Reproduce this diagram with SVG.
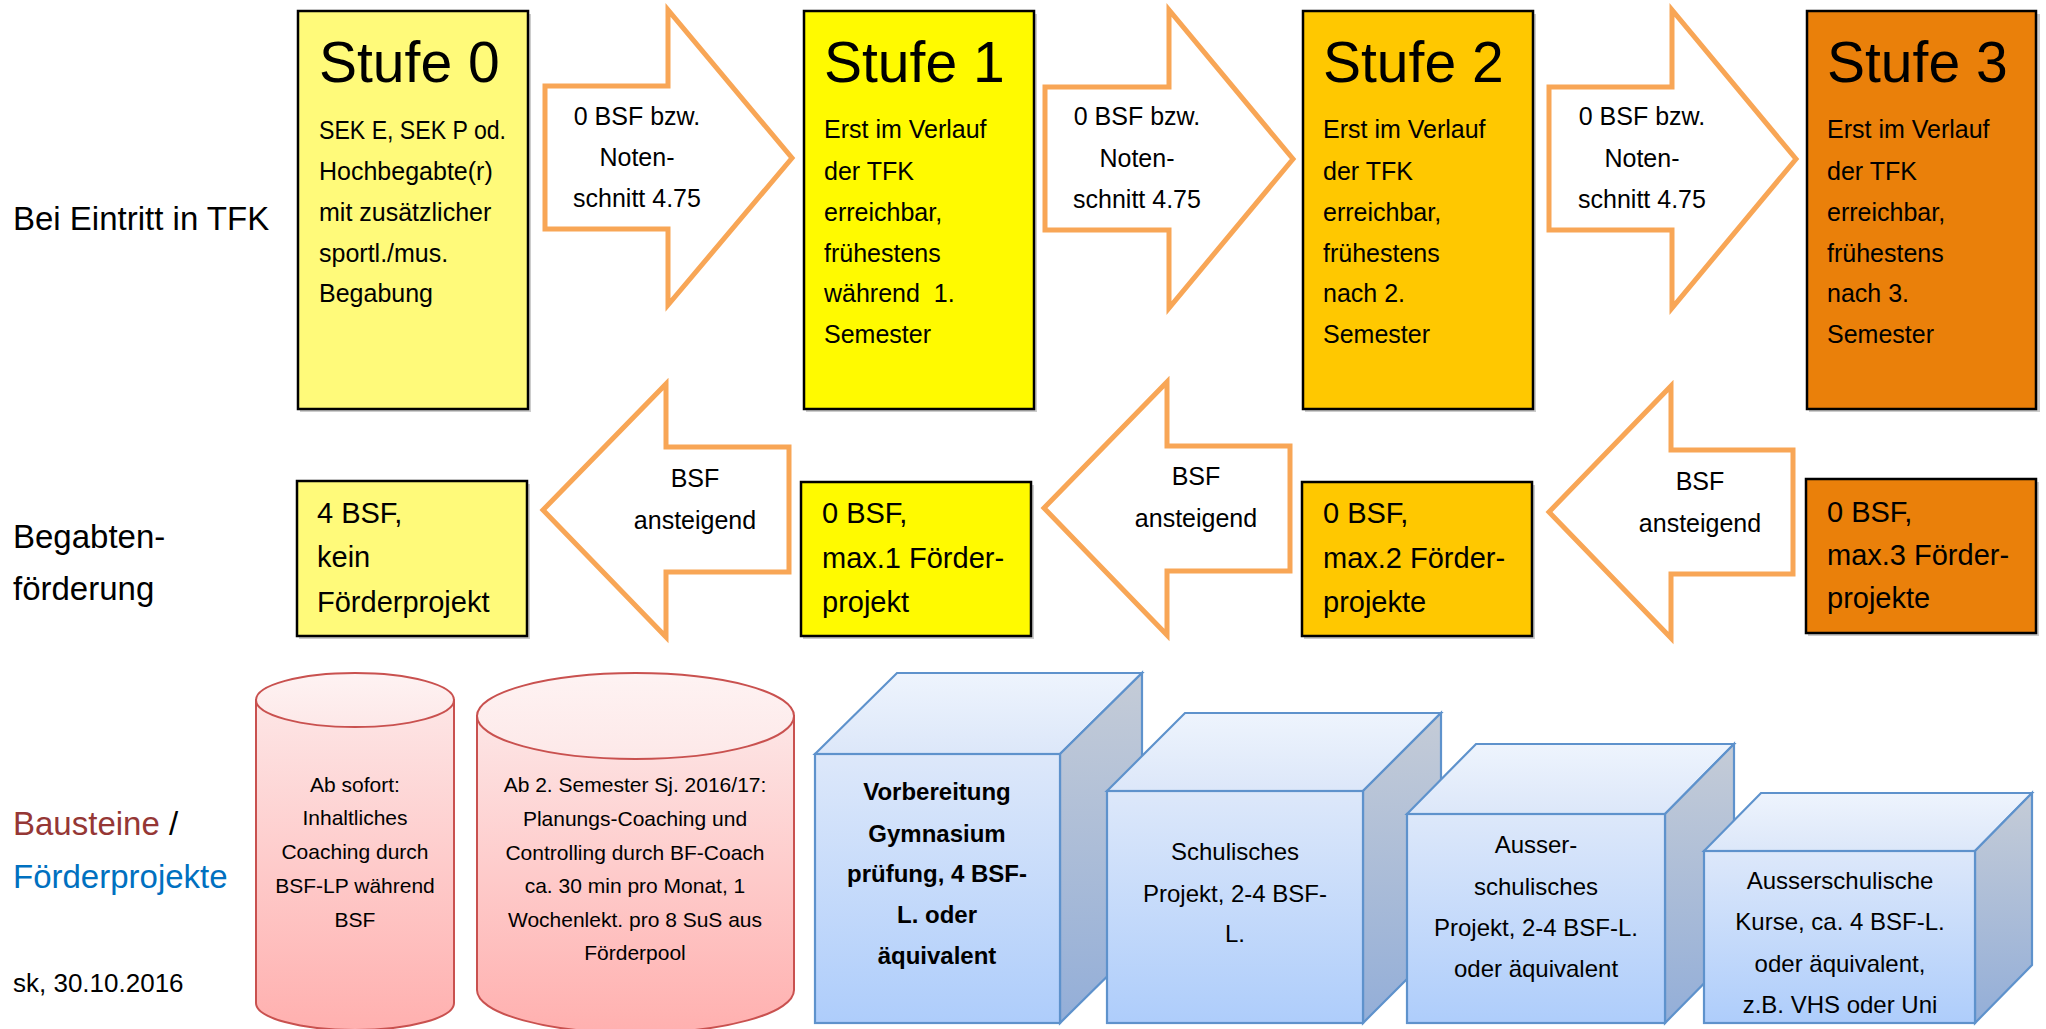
<svg xmlns="http://www.w3.org/2000/svg" width="2046" height="1029" viewBox="0 0 2046 1029">
<defs>
<linearGradient id="gCyl" x1="0" y1="0" x2="0" y2="1"><stop offset="0" stop-color="#FDE6E6"/><stop offset="1" stop-color="#FFB0AF"/></linearGradient>
<linearGradient id="gCylTop" x1="0" y1="0" x2="0" y2="1"><stop offset="0" stop-color="#FEF3F3"/><stop offset="1" stop-color="#FDE8E8"/></linearGradient>
<linearGradient id="gFront" x1="0" y1="0" x2="0" y2="1"><stop offset="0" stop-color="#DDE8FA"/><stop offset="1" stop-color="#AECDFB"/></linearGradient>
<linearGradient id="gTop" x1="0" y1="0" x2="0" y2="1"><stop offset="0" stop-color="#EEF4FD"/><stop offset="1" stop-color="#DCE7F9"/></linearGradient>
<linearGradient id="gSide" x1="0" y1="0" x2="0" y2="1"><stop offset="0" stop-color="#C5CCD7"/><stop offset="1" stop-color="#93AED8"/></linearGradient>
</defs>
<style>
text{font-family:"Liberation Sans",Arial,sans-serif;fill:#000}
.lbl{font-size:33px}
.title{font-size:57px}
.body{font-size:25px}
.arw{font-size:25px;text-anchor:middle}
.bb{font-size:29px}
.cyl{font-size:21px;text-anchor:middle}
.cube{font-size:24px;text-anchor:middle}
.bold{font-weight:bold}
.box{stroke:#000;stroke-width:2.5}
.shadow{fill:#9a9a9a;opacity:0.5}
.arrow{fill:#fff;stroke:#F8A656;stroke-width:5;stroke-linejoin:miter}
.cylb{fill:url(#gCyl);stroke:#C9514F;stroke-width:2}
.cylt{fill:url(#gCylTop);stroke:#C9514F;stroke-width:2}
.front{fill:url(#gFront);stroke:#5E92CC;stroke-width:2.2}
.top{fill:url(#gTop);stroke:#5E92CC;stroke-width:2.2}
.side{fill:url(#gSide);stroke:#5E92CC;stroke-width:2.2}
</style>
<rect width="2046" height="1029" fill="#fff"/>

<g id="labels">
<text class="lbl" x="13" y="230">Bei Eintritt in TFK</text>
<text class="lbl" x="13" y="548">Begabten-</text>
<text class="lbl" x="13" y="600">förderung</text>
<text class="lbl" x="13" y="835"><tspan fill="#953735" style="fill:#953735">Bausteine</tspan> /</text>
<text class="lbl" x="13" y="888" style="fill:#0070C0">Förderprojekte</text>
<text x="13" y="992" style="font-size:26px">sk, 30.10.2016</text>
</g>

<g id="connectors">
<polygon class="arrow" points="545,86 668,86 668,10 792,158 668,305 668,229 545,229"/>
<polygon class="arrow" points="1045,87 1169,87 1169,10 1293,159 1169,308 1169,230 1045,230"/>
<polygon class="arrow" points="1549,87 1672,87 1672,10 1796,159 1672,308 1672,230 1549,230"/>
<polygon class="arrow" points="789,447 666,447 666,384 543,510 666,637 666,572 789,572"/>
<polygon class="arrow" points="1290,446 1167,446 1167,382 1044,508 1167,635 1167,571 1290,571"/>
<polygon class="arrow" points="1793,450 1671,450 1671,386 1549,512 1671,638 1671,574 1793,574"/>
<g id="arrow-labels">
<text class="arw" x="637" y="125">0 BSF bzw.</text>
<text class="arw" x="637" y="166">Noten-</text>
<text class="arw" x="637" y="207">schnitt 4.75</text>
<text class="arw" x="1137" y="125">0 BSF bzw.</text>
<text class="arw" x="1137" y="167">Noten-</text>
<text class="arw" x="1137" y="208">schnitt 4.75</text>
<text class="arw" x="1642" y="125">0 BSF bzw.</text>
<text class="arw" x="1642" y="167">Noten-</text>
<text class="arw" x="1642" y="208">schnitt 4.75</text>
<text class="arw" x="695" y="487">BSF</text>
<text class="arw" x="695" y="529">ansteigend</text>
<text class="arw" x="1196" y="485">BSF</text>
<text class="arw" x="1196" y="527">ansteigend</text>
<text class="arw" x="1700" y="490">BSF</text>
<text class="arw" x="1700" y="532">ansteigend</text>
</g>
</g>

<g id="stufe0">
<rect class="shadow" x="300" y="14" width="231" height="398"/>
<rect class="box" x="298" y="11" width="230" height="398" fill="#FFFA7A"/>
<text class="title" x="319" y="82">Stufe 0</text>
<text class="body" x="319" y="139" textLength="187" lengthAdjust="spacingAndGlyphs">SEK E, SEK P od.</text>
<text class="body" x="319" y="180">Hochbegabte(r)</text>
<text class="body" x="319" y="221">mit zusätzlicher</text>
<text class="body" x="319" y="262">sportl./mus.</text>
<text class="body" x="319" y="302">Begabung</text>
</g>
<g id="stufe1">
<rect class="shadow" x="806" y="14" width="231" height="398"/>
<rect class="box" x="804" y="11" width="230" height="398" fill="#FFFA00"/>
<text class="title" x="824" y="82">Stufe 1</text>
<text class="body" x="824" y="138">Erst im Verlauf</text>
<text class="body" x="824" y="180">der TFK</text>
<text class="body" x="824" y="221">erreichbar,</text>
<text class="body" x="824" y="262">frühestens</text>
<text class="body" x="824" y="302" xml:space="preserve">während  1.</text>
<text class="body" x="824" y="343">Semester</text>
</g>
<g id="stufe2">
<rect class="shadow" x="1305" y="14" width="231" height="398"/>
<rect class="box" x="1303" y="11" width="230" height="398" fill="#FFC800"/>
<text class="title" x="1323" y="82">Stufe 2</text>
<text class="body" x="1323" y="138">Erst im Verlauf</text>
<text class="body" x="1323" y="180">der TFK</text>
<text class="body" x="1323" y="221">erreichbar,</text>
<text class="body" x="1323" y="262">frühestens</text>
<text class="body" x="1323" y="302">nach 2.</text>
<text class="body" x="1323" y="343">Semester</text>
</g>
<g id="stufe3">
<rect class="shadow" x="1809" y="14" width="231" height="398"/>
<rect class="box" x="1807" y="11" width="229" height="398" fill="#EA800A"/>
<text class="title" x="1827" y="82">Stufe 3</text>
<text class="body" x="1827" y="138">Erst im Verlauf</text>
<text class="body" x="1827" y="180">der TFK</text>
<text class="body" x="1827" y="221">erreichbar,</text>
<text class="body" x="1827" y="262">frühestens</text>
<text class="body" x="1827" y="302">nach 3.</text>
<text class="body" x="1827" y="343">Semester</text>
</g>

<g id="foerderung0">
<rect class="shadow" x="299" y="484" width="231" height="155"/>
<rect class="box" x="297" y="481" width="230" height="155" fill="#FFFA7A"/>
<text class="bb" x="317" y="523">4 BSF,</text>
<text class="bb" x="317" y="567">kein</text>
<text class="bb" x="317" y="612">Förderprojekt</text>
</g>
<g id="foerderung1">
<rect class="shadow" x="803" y="485" width="231" height="154"/>
<rect class="box" x="801" y="482" width="230" height="154" fill="#FFFA00"/>
<text class="bb" x="822" y="523">0 BSF,</text>
<text class="bb" x="822" y="568">max.1 Förder-</text>
<text class="bb" x="822" y="612">projekt</text>
</g>
<g id="foerderung2">
<rect class="shadow" x="1304" y="485" width="231" height="154"/>
<rect class="box" x="1302" y="482" width="230" height="154" fill="#FFC800"/>
<text class="bb" x="1323" y="523">0 BSF,</text>
<text class="bb" x="1323" y="568">max.2 Förder-</text>
<text class="bb" x="1323" y="612">projekte</text>
</g>
<g id="foerderung3">
<rect class="shadow" x="1808" y="482" width="231" height="154"/>
<rect class="box" x="1806" y="479" width="230" height="154" fill="#EA800A"/>
<text class="bb" x="1827" y="522">0 BSF,</text>
<text class="bb" x="1827" y="565">max.3 Förder-</text>
<text class="bb" x="1827" y="608">projekte</text>
</g>

<g id="zylinder1">
<path class="cylb" d="M256,700 L256,1003 A99,27 0 0 0 454,1003 L454,700 Z"/>
<ellipse class="cylt" cx="355" cy="700" rx="99" ry="27"/>
<text class="cyl" x="355" y="792">Ab sofort:</text>
<text class="cyl" x="355" y="825">Inhaltliches</text>
<text class="cyl" x="355" y="859">Coaching durch</text>
<text class="cyl" x="355" y="893">BSF-LP während</text>
<text class="cyl" x="355" y="927">BSF</text>
</g>
<g id="zylinder2">
<path class="cylb" d="M477,716 L477,990 A158.5,43 0 0 0 794,990 L794,716 Z"/>
<ellipse class="cylt" cx="635.5" cy="716" rx="158.5" ry="43"/>
<text class="cyl" x="635" y="792">Ab 2. Semester Sj. 2016/17:</text>
<text class="cyl" x="635" y="826">Planungs-Coaching und</text>
<text class="cyl" x="635" y="860">Controlling durch BF-Coach</text>
<text class="cyl" x="635" y="893">ca. 30 min pro Monat, 1</text>
<text class="cyl" x="635" y="927">Wochenlekt. pro 8 SuS aus</text>
<text class="cyl" x="635" y="960">Förderpool</text>
</g>

<g id="wuerfel1">
<polygon class="top" points="815,754 897,673 1142,673 1060,754"/>
<polygon class="side" points="1060,754 1142,673 1142,942 1060,1023"/>
<rect class="front" x="815" y="754" width="245" height="269"/>
<text class="cube bold" x="937" y="800">Vorbereitung</text>
<text class="cube bold" x="937" y="842">Gymnasium</text>
<text class="cube bold" x="937" y="882">prüfung, 4 BSF-</text>
<text class="cube bold" x="937" y="923">L. oder</text>
<text class="cube bold" x="937" y="964">äquivalent</text>
</g>
<g id="wuerfel2">
<polygon class="top" points="1107,791 1185,713 1441,713 1363,791"/>
<polygon class="side" points="1363,791 1441,713 1441,945 1363,1023"/>
<rect class="front" x="1107" y="791" width="256" height="232"/>
<text class="cube" x="1235" y="860">Schulisches</text>
<text class="cube" x="1235" y="902">Projekt, 2-4 BSF-</text>
<text class="cube" x="1235" y="942">L.</text>
</g>
<g id="wuerfel3">
<polygon class="top" points="1407,814 1476,744 1734,744 1665,814"/>
<polygon class="side" points="1665,814 1734,744 1734,953 1665,1023"/>
<rect class="front" x="1407" y="814" width="258" height="209"/>
<text class="cube" x="1536" y="853">Ausser-</text>
<text class="cube" x="1536" y="895">schulisches</text>
<text class="cube" x="1536" y="936">Projekt, 2-4 BSF-L.</text>
<text class="cube" x="1536" y="977">oder äquivalent</text>
</g>
<g id="wuerfel4">
<polygon class="top" points="1704,851 1761,793 2032,793 1975,851"/>
<polygon class="side" points="1975,851 2032,793 2032,965 1975,1023"/>
<rect class="front" x="1704" y="851" width="271" height="172"/>
<text class="cube" x="1840" y="889">Ausserschulische</text>
<text class="cube" x="1840" y="930">Kurse, ca. 4 BSF-L.</text>
<text class="cube" x="1840" y="972">oder äquivalent,</text>
<text class="cube" x="1840" y="1013">z.B. VHS oder Uni</text>
</g>
</svg>
